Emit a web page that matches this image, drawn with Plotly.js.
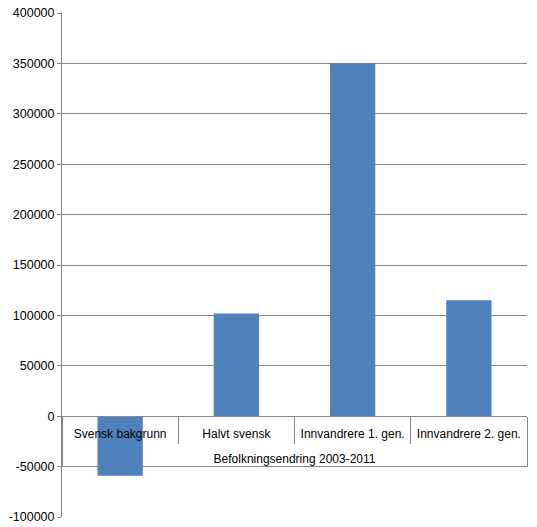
<!DOCTYPE html>
<html>
<head>
<meta charset="utf-8">
<script src="https://cdn.plot.ly/plotly-3.0.1.min.js"></script>
<style>
html,body{margin:0;padding:0;background:#fff;}
#chart{width:537px;height:527px;}
</style>
</head>
<body>
<div id="chart"></div>
<script>
const groupLabel = 'Befolkningsendring 2003-2011';
const categories = ['Svensk bakgrunn', 'Halvt svensk', 'Innvandrere 1. gen.', 'Innvandrere 2. gen.'];
const values = [-59000, 102000, 350000, 115000];
const yTickVals = [-100000, -50000, 0, 50000, 100000, 150000, 200000, 250000, 300000, 350000, 400000];

const gray = '#868686';
const fontFam = 'Liberation Sans, Arial, sans-serif';

// the leading line break only pushes the group label one line lower
const groupText = '<br>' + groupLabel;

const trace = {
  type: 'bar',
  x: [categories.map(() => groupText), categories],
  y: values,
  marker: {color: '#4F81BD', line: {width: 0}},
  hoverinfo: 'skip'
};

const layout = {
  width: 537,
  height: 527,
  margin: {l: 62, r: 10, t: 13, b: 10, pad: 0},
  paper_bgcolor: '#ffffff',
  plot_bgcolor: '#ffffff',
  showlegend: false,
  bargap: 0.61,
  font: {family: fontFam, size: 12, color: '#000000'},
  xaxis: {
    type: 'multicategory',
    anchor: 'free',
    position: 0.2,
    showgrid: false,
    zeroline: false,
    showline: true,
    linecolor: gray,
    linewidth: 1,
    ticks: 'outside',
    ticklen: 27,
    tickcolor: gray,
    tickwidth: 1,
    tickangle: 0,
    ticklabelstandoff: 6,
    showdividers: true,
    dividercolor: gray,
    dividerwidth: 1,
    tickfont: {family: fontFam, size: 12, color: '#000000'}
  },
  yaxis: {
    range: [-100000, 400000],
    tickvals: yTickVals,
    ticktext: yTickVals.map(String),
    showgrid: true,
    gridcolor: gray,
    gridwidth: 1,
    zeroline: true,
    zerolinecolor: gray,
    zerolinewidth: 1,
    showline: true,
    linecolor: gray,
    linewidth: 1,
    ticks: 'outside',
    ticklen: 4,
    tickcolor: gray,
    tickfont: {family: fontFam, size: 12.5, color: '#000000'},
    fixedrange: true
  }
};

Plotly.newPlot('chart', [trace], layout, {displayModeBar: false, staticPlot: true});
</script>
</body>
</html>
